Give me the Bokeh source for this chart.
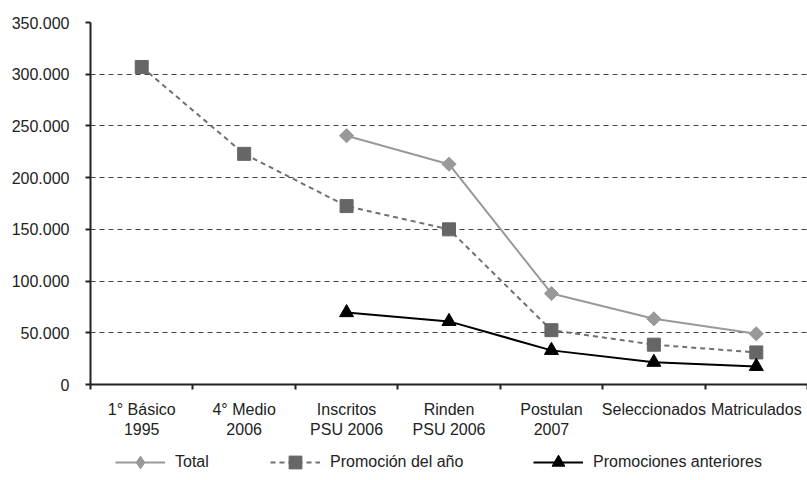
import math
from bokeh.plotting import figure
from bokeh.layouts import column
from bokeh.models import FixedTicker, Legend, LegendItem, Range1d, ColumnDataSource
from bokeh.embed import file_html
from bokeh.resources import INLINE

nan = float("nan")
categories = ["1° Básico\n1995", "4° Medio\n2006", "Inscritos\nPSU 2006", "Rinden\nPSU 2006",
              "Postulan\n2007", "Seleccionados", "Matriculados"]
total = [nan, nan, 240500, 213000, 88000, 63500, 49000]
promocion = [307000, 223000, 172500, 150000, 52500, 38500, 31000]
anteriores = [nan, nan, 69500, 61000, 33000, 21500, 17500]
y_ticks = [0, 50000, 100000, 150000, 200000, 250000, 300000, 350000]
y_labels = ["0", "50.000", "100.000", "150.000", "200.000", "250.000", "300.000", "350.000"]
series_names = ["Total", "Promoción del año", "Promociones anteriores"]

xs = [i + 0.5 for i in range(len(categories))]
src = ColumnDataSource(dict(x=xs, total=total, promocion=promocion, anteriores=anteriores))

FONT = "Liberation Sans"
FS = "16px"
TXT = "#222222"

STYLES = [
    dict(line=dict(line_color="#999999", line_width=2),
         marker=dict(marker="square", angle=math.pi / 4, size=10, fill_color="#999999", line_color="#999999"),
         legend_marker=dict(marker="diamond", fill_color="#999999", line_color="#999999")),
    dict(line=dict(line_color="#707070", line_width=2, line_dash="5 4"),
         marker=dict(marker="square", size=13, fill_color="#666666", line_color="#666666"),
         legend_marker=dict(marker="square", fill_color="#666666", line_color="#666666")),
    dict(line=dict(line_color="#000000", line_width=2),
         marker=dict(marker="triangle", size=14, fill_color="#000000", line_color="#000000"),
         legend_marker=dict(marker="triangle", fill_color="#000000", line_color="#000000")),
]

p = figure(width=807, height=440, output_backend="svg", toolbar_location=None,
           x_range=Range1d(0, 7), y_range=Range1d(0, 350000),
           min_border_left=90, min_border_top=22, min_border_right=0, min_border_bottom=56)
p.outline_line_color = None
p.xgrid.grid_line_color = None
p.ygrid.ticker = FixedTicker(ticks=y_ticks)
p.ygrid.grid_line_color = "#444444"
p.ygrid.grid_line_dash = "5 4"
p.ygrid.grid_line_width = 1

p.yaxis.ticker = FixedTicker(ticks=y_ticks)
p.yaxis.major_label_overrides = {t: l for t, l in zip(y_ticks, y_labels)}
p.yaxis.axis_line_width = 2
p.yaxis.axis_line_color = TXT
p.yaxis.major_tick_out = 5
p.yaxis.major_tick_in = 0
p.yaxis.major_tick_line_width = 2
p.yaxis.major_tick_line_color = TXT
p.yaxis.minor_tick_line_color = None
p.yaxis.major_label_text_font = FONT
p.yaxis.major_label_text_font_size = FS
p.yaxis.major_label_text_color = TXT
p.yaxis.major_label_standoff = 16

p.xaxis.ticker = FixedTicker(ticks=xs, minor_ticks=list(range(0, 8)))
p.xaxis.major_label_overrides = {x: c for x, c in zip(xs, categories)}
p.xaxis.major_tick_line_color = None
p.xaxis.minor_tick_out = 5
p.xaxis.minor_tick_in = 0
p.xaxis.minor_tick_line_width = 2
p.xaxis.minor_tick_line_color = TXT
p.xaxis.axis_line_width = 2
p.xaxis.axis_line_color = TXT
p.xaxis.major_label_text_font = FONT
p.xaxis.major_label_text_font_size = FS
p.xaxis.major_label_text_color = TXT
p.xaxis.major_label_standoff = 10

for col, st in zip(["total", "promocion", "anteriores"], STYLES):
    p.line("x", col, source=src, **st["line"])
    p.scatter("x", col, source=src, **st["marker"])

# legend strip (frame aligned with the main plot's frame)
LEFT = 90
lg = figure(width=807, height=40, output_backend="svg", toolbar_location=None,
            x_range=Range1d(0, 1), y_range=Range1d(0, 1),
            x_axis_location=None, y_axis_location=None,
            min_border_left=LEFT, min_border_right=0, min_border_top=0, min_border_bottom=0)
lg.outline_line_color = None
lg.xgrid.grid_line_color = None
lg.ygrid.grid_line_color = None

legend_x = [115, 270, 533]
for name, st, lx in zip(series_names, STYLES, legend_x):
    dummy = ColumnDataSource(dict(x=[nan], y=[nan]))
    r1 = lg.line("x", "y", source=dummy, **st["line"])
    r2 = lg.scatter("x", "y", source=dummy, **st["legend_marker"])
    leg = Legend(items=[LegendItem(label=name, renderers=[r1, r2])],
                 location=(lx - LEFT, 2), border_line_color=None, background_fill_alpha=0,
                 glyph_width=50, glyph_height=32, label_height=16, label_standoff=10,
                 label_text_font=FONT, label_text_font_size=FS, label_text_color=TXT,
                 margin=0, padding=0)
    lg.add_layout(leg, "center")

layout = column(p, lg, spacing=0)
open("out.html", "w").write(file_html(layout, INLINE))
